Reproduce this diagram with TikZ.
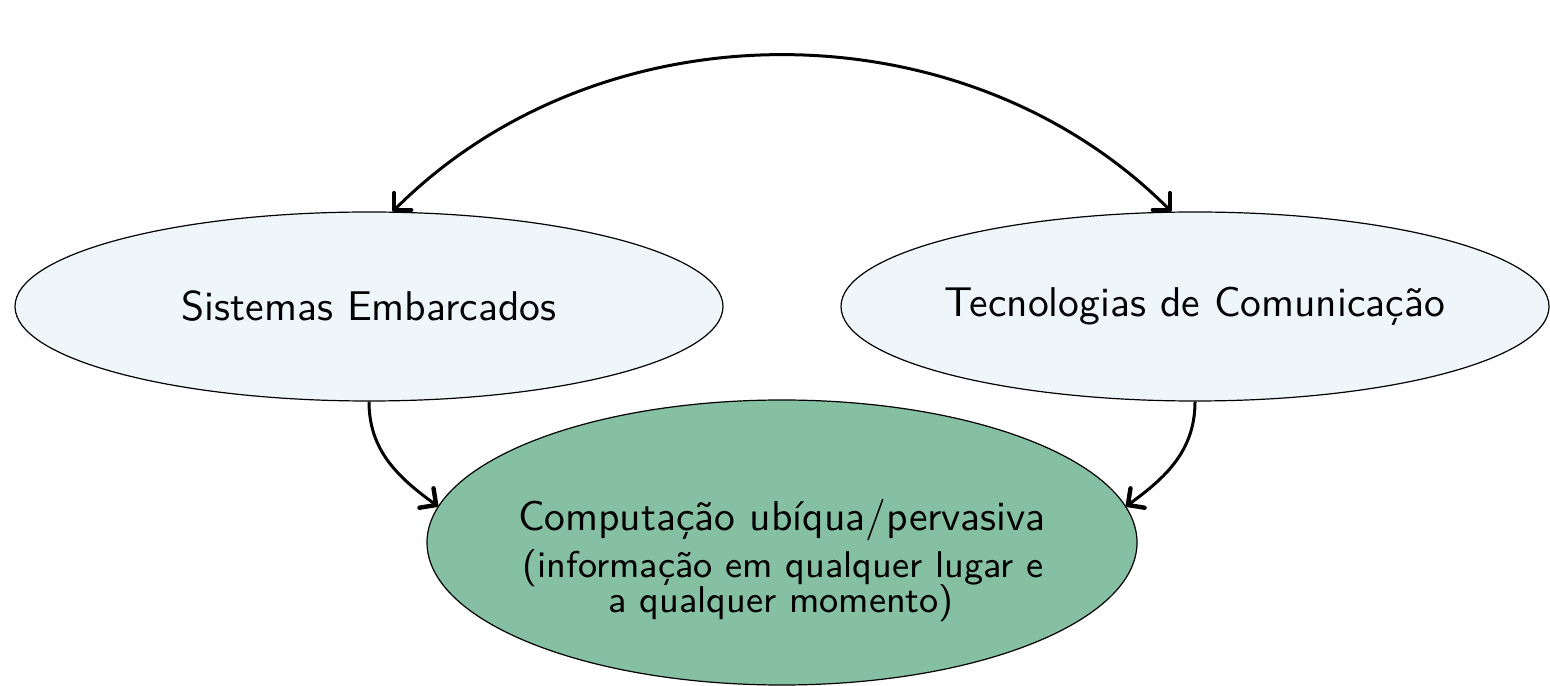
\documentclass[tikz,border=0pt]{standalone}
\usepackage{fontspec}
\usetikzlibrary{shapes.geometric,arrows.meta}
\definecolor{paleblue}{HTML}{EEF6FA}
\definecolor{ubigreen}{HTML}{86C0A3}
\newcommand{\biglab}[1]{\scalebox{2.08}{\fontsize{10}{12}\selectfont #1}}
\newcommand{\smalllab}[1]{\scalebox{2.07}{\fontsize{9}{11}\selectfont #1}}
\begin{document}
\begin{tikzpicture}[x=0.5pt,y=0.5pt,
  blob/.style={draw=black, line width=0.6pt, ellipse, inner sep=0pt},
  lab/.style={font=\sffamily, inner sep=0pt},
  tip/.tip={Straight Barb[length=6pt,width=12pt,line width=2.2pt,round]},
  link/.style={line width=1.5pt, -tip}]
\useasboundingbox (0,0) rectangle (1550,685);
\node[blob, fill=paleblue, minimum width=354pt, minimum height=94.5pt] (L) at (369,378.5) {};
\node[blob, fill=paleblue, minimum width=354pt, minimum height=94.5pt] (R) at (1195,378.5) {};
\node[blob, fill=ubigreen, minimum width=355pt, minimum height=142.5pt] (B) at (782,142.5) {};
\node[lab] (Lt) at (L.center) {\biglab{Sistemas Embarcados}};
\node[lab] (Rt) at (R.center) {\biglab{Tecnologias de Comunicação}};
\node[lab, anchor=base] (B1) at (782,155) {\biglab{Computação ubíqua/pervasiva}};
\node[lab, anchor=base] (B2) at (783,107) {\smalllab{(informação em qualquer lugar e}};
\node[lab, anchor=base] (B3) at (781,73) {\smalllab{a qualquer momento)}};
\draw[link, tip-tip] (L.76) to[out=45,in=135,looseness=0.97] (R.104);
\draw[link] (L.south) to[out=-90,in=144] (B.174);
\draw[link] (R.south) to[out=-90,in=36] (B.6);
\end{tikzpicture}
\end{document}
